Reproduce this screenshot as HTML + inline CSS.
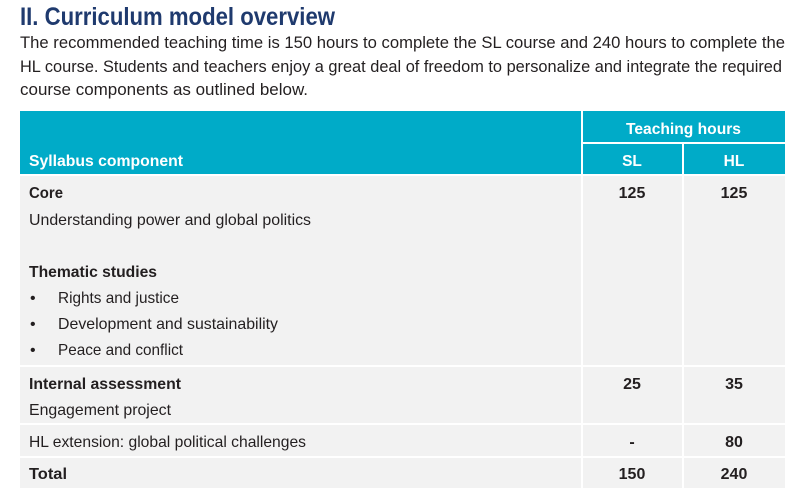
<!DOCTYPE html>
<html><head><meta charset="utf-8"><style>
html,body{margin:0;padding:0;background:#fff;width:800px;height:501px;overflow:hidden}
svg{display:block;font-family:"Liberation Sans",sans-serif}
</style></head><body>
<svg width="800" height="501" viewBox="0 0 800 501">
<text x="20" y="25" font-size="25" font-weight="bold" fill="#1f3a6e" textLength="315" lengthAdjust="spacingAndGlyphs">II. Curriculum model overview</text>
<g font-size="16.5" fill="#231f20">
<text x="20" y="48" textLength="765" lengthAdjust="spacingAndGlyphs">The recommended teaching time is 150 hours to complete the SL course and 240 hours to complete the</text>
<text x="20" y="72" textLength="762" lengthAdjust="spacingAndGlyphs">HL course. Students and teachers enjoy a great deal of freedom to personalize and integrate the required</text>
<text x="20" y="95" textLength="288" lengthAdjust="spacingAndGlyphs">course components as outlined below.</text>
</g>
<g>
<rect x="20" y="111" width="765" height="64" fill="#00abc8"/>
<rect x="20" y="175" width="765" height="313" fill="#f2f2f2"/>
<g stroke="#ffffff" stroke-width="2">
<line x1="582" y1="111" x2="582" y2="488"/>
<line x1="683" y1="143" x2="683" y2="488"/>
<line x1="582" y1="143" x2="785" y2="143"/>
<line x1="20" y1="175" x2="785" y2="175"/>
<line x1="20" y1="366" x2="785" y2="366"/>
<line x1="20" y1="424" x2="785" y2="424"/>
<line x1="20" y1="457" x2="785" y2="457"/>
</g>
<g fill="#ffffff" font-weight="bold" font-size="15.5">
<text x="683.5" y="134" text-anchor="middle" textLength="115" lengthAdjust="spacingAndGlyphs">Teaching hours</text>
<text x="29" y="166" textLength="154" lengthAdjust="spacingAndGlyphs">Syllabus component</text>
<text x="632" y="166" text-anchor="middle">SL</text>
<text x="734" y="166" text-anchor="middle">HL</text>
</g>
<g fill="#231f20" font-size="16">
<text x="29" y="198" font-weight="bold" textLength="34" lengthAdjust="spacingAndGlyphs">Core</text>
<text x="29" y="225" textLength="282" lengthAdjust="spacingAndGlyphs">Understanding power and global politics</text>
<text x="29" y="277" font-weight="bold" textLength="128" lengthAdjust="spacingAndGlyphs">Thematic studies</text>
<text x="30" y="303">•</text><text x="58" y="303" textLength="121" lengthAdjust="spacingAndGlyphs">Rights and justice</text>
<text x="30" y="329">•</text><text x="58" y="329" textLength="220" lengthAdjust="spacingAndGlyphs">Development and sustainability</text>
<text x="30" y="355">•</text><text x="58" y="355" textLength="125" lengthAdjust="spacingAndGlyphs">Peace and conflict</text>
<text x="29" y="389" font-weight="bold" textLength="152" lengthAdjust="spacingAndGlyphs">Internal assessment</text>
<text x="29" y="415" textLength="142" lengthAdjust="spacingAndGlyphs">Engagement project</text>
<text x="29" y="447" textLength="277" lengthAdjust="spacingAndGlyphs">HL extension: global political challenges</text>
<text x="29" y="479" font-weight="bold" textLength="38" lengthAdjust="spacingAndGlyphs">Total</text>
</g>
<g fill="#231f20" font-size="16" font-weight="bold" text-anchor="middle">
<text x="632" y="198">125</text><text x="734" y="198">125</text>
<text x="632" y="389">25</text><text x="734" y="389">35</text>
<text x="632" y="447">-</text><text x="734" y="447">80</text>
<text x="632" y="479">150</text><text x="734" y="479">240</text>
</g>
</g>
</svg>
</body></html>
